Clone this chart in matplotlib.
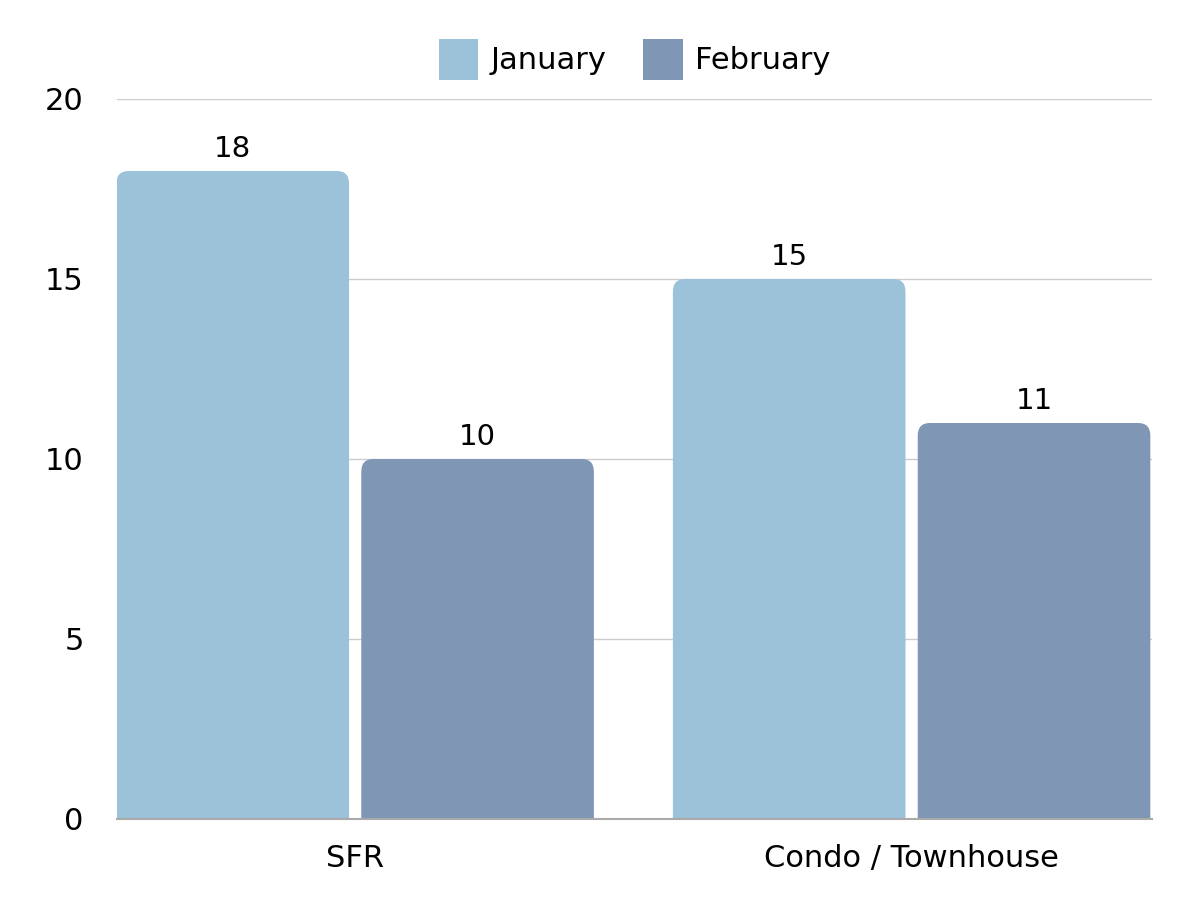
import numpy as np
import matplotlib
matplotlib.use("Agg")
import matplotlib.pyplot as plt
from matplotlib.path import Path
from matplotlib.patches import PathPatch

categories = ["SFR", "Condo / Townhouse"]
series_names = ["January", "February"]
january = [18, 15]
february = [10, 11]
colors = ["#9BC2D8", "#7F97B4"]

plt.rcParams["font.family"] = ["DejaVu Sans"]

fig = plt.figure(figsize=(12, 9), dpi=100)
ax = fig.add_axes([117 / 1200, 1 - 819 / 900, (1152 - 117) / 1200, (819 - 99) / 900])

x = np.arange(len(categories))
width = 0.418
offset = 0.22
rx = 0.022   # corner radius in x data units (~12 px)
ry = 0.35    # corner radius in y data units (~12 px)


def top_rounded_bar(left, w, h):
    right = left + w
    verts = [
        (left, 0), (right, 0), (right, h - ry),
        (right, h), (right - rx, h),
        (left + rx, h),
        (left, h), (left, h - ry),
        (left, 0),
    ]
    codes = [Path.MOVETO, Path.LINETO, Path.LINETO,
             Path.CURVE3, Path.CURVE3,
             Path.LINETO,
             Path.CURVE3, Path.CURVE3,
             Path.CLOSEPOLY]
    return Path(verts, codes)


for vals, col, sign, name in [(january, colors[0], -1, series_names[0]),
                              (february, colors[1], 1, series_names[1])]:
    for xi, v in zip(x, vals):
        left = xi + sign * offset - width / 2
        ax.add_patch(PathPatch(top_rounded_bar(left, width, v), facecolor=col,
                               edgecolor="none", zorder=3))
        ax.text(xi + sign * offset, v + 0.22, str(v), ha="center", va="bottom",
                fontsize=21, color="black", zorder=4)
    ax.bar([0], [0], color=col, label=name)

ax.set_xlim(-0.428, 1.432)
ax.set_ylim(0, 20)
ax.set_yticks([0, 5, 10, 15, 20])
ax.set_xticks(x)
ax.set_xticklabels(categories)
ax.tick_params(axis="both", length=0, labelsize=22, colors="black")
ax.tick_params(axis="y", pad=24)
ax.tick_params(axis="x", pad=18)
ax.grid(axis="y", color="#CCCCCC", linewidth=1, zorder=0)
ax.set_axisbelow(True)
for s in ["top", "right", "left"]:
    ax.spines[s].set_visible(False)
ax.spines["bottom"].set_color("#AAAAAA")
ax.spines["bottom"].set_linewidth(1.5)
ax.spines["bottom"].set_zorder(5)

ax.legend(loc="center", bbox_to_anchor=(0.5, 1.055), ncol=2, frameon=False,
          fontsize=22, handlelength=1.3, handleheight=1.7, handletextpad=0.4,
          columnspacing=1.2)

fig.savefig("out.png", dpi=100, facecolor="white")
